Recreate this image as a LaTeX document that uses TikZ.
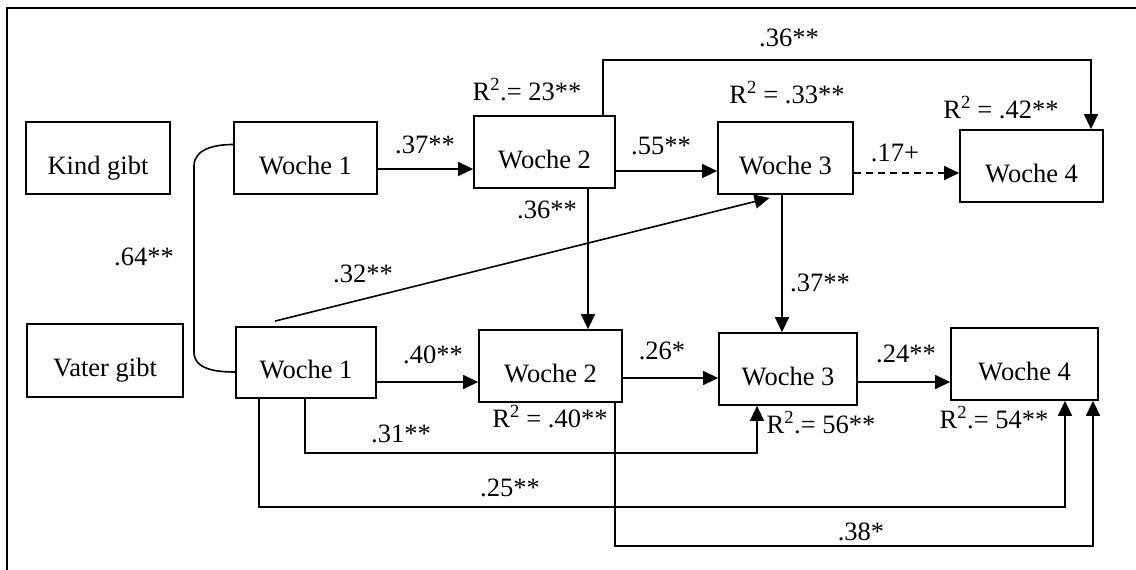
\documentclass[tikz,border=0pt]{standalone}
\usepackage{fontspec}
\setmainfont{Liberation Serif}
\usetikzlibrary{arrows.meta}

\begin{document}
\begin{tikzpicture}[
    x=1pt, y=-1pt,
    font=\fontsize{26.5}{31}\selectfont,
    >={Triangle[length=15pt, width=14pt]},
    box/.style={rectangle, draw, line width=1.8pt, inner sep=0pt, text height=32pt, text depth=0pt},
    coef/.style={anchor=base, inner sep=0pt},
    rsq/.style={anchor=base, inner sep=0pt},
    arrow/.style={->, line width=1.6pt},
    link/.style={line width=1.6pt},
    frame/.style={line width=2.2pt}
]
    \useasboundingbox (0,0) rectangle (1136,570);

    % Frame
    \draw [frame] (7,570) -- (7,8) -- (1136,8);

    % Kind gibt (top row)
    \node (kind) [box, minimum width=144pt, minimum height=72pt] at (98,158) {Kind gibt};
    \node (w1a) [box, minimum width=143pt, minimum height=72pt] at (305.5,158) {Woche 1};
    \node (w2a) [box, minimum width=141pt, minimum height=72pt] at (544.5,152) {Woche 2};
    \node (w3a) [box, minimum width=135pt, minimum height=72pt] at (785.5,158) {Woche 3};
    \node (w4a) [box, minimum width=143pt, minimum height=72pt] at (1031.5,166) {Woche 4};

    % Vater gibt (bottom row)
    \node (vater) [box, minimum width=156pt, minimum height=73pt] at (105,360.5) {Vater gibt};
    \node (w1b) [box, minimum width=140pt, minimum height=71pt] at (306,362.5) {Woche 1};
    \node (w2b) [box, minimum width=143pt, minimum height=72pt] at (550.5,366) {Woche 2};
    \node (w3b) [box, minimum width=138pt, minimum height=72pt] at (788,369) {Woche 3};
    \node (w4b) [box, minimum width=147pt, minimum height=72pt] at (1024.5,364) {Woche 4};

    % Bend points
    \coordinate (ctop) at (194,166);
    \coordinate (cbot) at (194,352);
    \coordinate (toprow) at (800,60);
    \coordinate (row31) at (500,453);
    \coordinate (row25) at (600,507);
    \coordinate (row38) at (800,546);

    % Correlation of the two Woche 1
    \draw [link] ([yshift=13.5pt]w1a.west) to[out=180, in=90] (ctop) -- (cbot) to[out=-90, in=180] ([yshift=-9.5pt]w1b.west);

    % Top row paths
    \draw [arrow] ([yshift=-11pt]w1a.east) -- ([yshift=-11pt]w1a.east -| w2a.west);
    \draw [arrow] ([yshift=-19pt]w2a.east) -- ([yshift=-19pt]w2a.east -| w3a.west);
    \draw [arrow, dash pattern=on 7pt off 5pt] ([yshift=-15pt]w3a.east) -- ([yshift=-15pt]w3a.east -| w4a.west);
    \draw [arrow] ([xshift=58.5pt]w2a.north) |- (toprow) -| ([xshift=59.5pt]w4a.north);

    % Cross paths
    \draw [arrow] ([xshift=43.5pt]w2a.south) -- ([xshift=43.5pt]w2a.south |- w2b.north);
    \draw [arrow] ([xshift=-3.5pt]w3a.south) -- ([xshift=-3.5pt]w3a.south |- w3b.north);
    \draw [arrow] ([xshift=-31pt, yshift=5pt]w1b.north) -- ([xshift=-16pt, yshift=-3pt]w3a.south);

    % Bottom row paths
    \draw [arrow] ([yshift=-19.5pt]w1b.east) -- ([yshift=-19.5pt]w1b.east -| w2b.west);
    \draw [arrow] ([yshift=-12pt]w2b.east) -- ([yshift=-12pt]w2b.east -| w3b.west);
    \draw [arrow] ([yshift=-13pt]w3b.east) -- ([yshift=-13pt]w3b.east -| w4b.west);
    \draw [arrow] ([xshift=-1pt]w1b.south) |- (row31) -| ([xshift=-31pt]w3b.south);
    \draw [arrow] ([xshift=-47pt]w1b.south) |- (row25) -| ([xshift=40.5pt]w4b.south);
    \draw [arrow] ([xshift=64.5pt]w2b.south) |- (row38) -| ([xshift=68.5pt]w4b.south);

    % Coefficients
    \node (k64) [coef] at (144,265) {.64**};
    \node (k37a) [coef] at (425,153) {.37**};
    \node (k55) [coef] at (661,154) {.55**};
    \node (k17) [coef] at (895,161) {.17+};
    \node (k36a) [coef] at (789,46) {.36**};
    \node (k36b) [coef] at (547,218) {.36**};
    \node (k32) [coef] at (363,282) {.32**};
    \node (k37b) [coef] at (820,291) {.37**};
    \node (k40) [coef] at (433,363) {.40**};
    \node (k26) [coef] at (662,359) {.26*};
    \node (k24) [coef] at (906,362) {.24**};
    \node (k31) [coef] at (401,442) {.31**};
    \node (k25) [coef] at (510,496) {.25**};
    \node (k38) [coef] at (861,540) {.38*};

    % Explained variance
    \node (r2a) [rsq] at (527,100) {R\textsuperscript{2}.= 23**};
    \node (r3a) [rsq] at (787,103) {R\textsuperscript{2} = .33**};
    \node (r4a) [rsq] at (1001,118) {R\textsuperscript{2} = .42**};
    \node (r2b) [rsq] at (550,427) {R\textsuperscript{2} = .40**};
    \node (r3b) [rsq] at (821,433) {R\textsuperscript{2}.= 56**};
    \node (r4b) [rsq] at (994,428) {R\textsuperscript{2}.= 54**};

\end{tikzpicture}
\end{document}
